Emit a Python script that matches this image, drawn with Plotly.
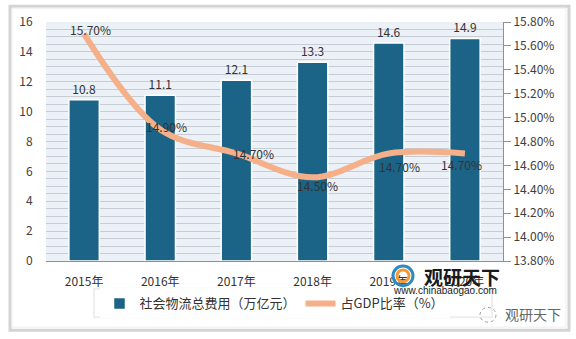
import plotly.graph_objects as go

years = ["2015年", "2016年", "2017年", "2018年", "2019年", "2020年"]
cost = [10.8, 11.1, 12.1, 13.3, 14.6, 14.9]
gdp_ratio = [15.70, 14.90, 14.70, 14.50, 14.70, 14.70]
cost_name = "社会物流总费用（万亿元）"
ratio_name = "占GDP比率（%）"

FONT = "Noto Sans CJK SC"
BAR = "#1C6487"
LINE = "#F5B08A"

def px(x):
    return (x - 46) / 457

def py(y):
    return (261 - y) / 242

fig = go.Figure()
fig.add_trace(go.Bar(
    x=years, y=cost, name=cost_name, width=0.4,
    marker=dict(color=BAR, line=dict(color="white", width=1.5)),
    text=[f"{v:.1f}" for v in cost], textposition="outside",
    textfont=dict(size=12, color="#333333", family=FONT),
    cliponaxis=False,
))
fig.add_trace(go.Scatter(
    x=years, y=gdp_ratio, name=ratio_name, yaxis="y2", mode="lines",
    line=dict(color=LINE, width=6, shape="spline", smoothing=1.0),
))

# point labels for ratio line
offsets = [(6, 4), (6, 3), (17, 0), (5, -8), (11, -13), (-3, -11)]
for yr, v, (dx, dy) in zip(years, gdp_ratio, offsets):
    fig.add_annotation(x=yr, y=v, yref="y2", text=f"{v:.2f}%", showarrow=False,
                       xshift=dx, yshift=dy,
                       font=dict(size=12, color="#333333", family=FONT))

# outer frame with shadow
fig.add_shape(type="rect", xref="paper", yref="paper", layer="above",
              x0=px(10), x1=px(569), y0=py(331), y1=py(3),
              line=dict(color="#D4D4D4", width=3))
fig.add_shape(type="rect", xref="paper", yref="paper", layer="above",
              x0=px(12), x1=px(566), y0=py(328), y1=py(5),
              line=dict(color="#EEEEEE", width=1))
# legend shadow box
fig.add_shape(type="rect", xref="paper", yref="paper", layer="above",
              x0=px(94), x1=px(492), y0=py(318), y1=py(289),
              line=dict(color="#EEEEEE", width=2))

# watermark logo (circle shapes)
fig.add_shape(type="circle", xref="paper", yref="paper", layer="above",
              x0=px(393), x1=px(413), y0=py(286), y1=py(266),
              line=dict(color="#2E8BC0", width=3))
fig.add_shape(type="circle", xref="paper", yref="paper", layer="above",
              x0=px(397), x1=px(409), y0=py(282), y1=py(270),
              line=dict(color="#F29A38", width=3))
fig.add_annotation(xref="paper", yref="paper", x=px(462), y=py(277),
                   xanchor="center", yanchor="middle",
                   text="<b>观研天下</b>", showarrow=False,
                   font=dict(size=19, color="#1A1A1A", family=FONT))
fig.add_annotation(xref="paper", yref="paper", x=px(445), y=py(291),
                   xanchor="center", yanchor="middle",
                   text="www.chinabaogao.com", showarrow=False,
                   font=dict(size=10, color="#1A1A1A", family="Arial"))
fig.add_shape(type="circle", xref="paper", yref="paper", layer="above",
              x0=px(480), x1=px(496), y0=py(323), y1=py(308),
              line=dict(color="#999999", width=1, dash="dot"))
fig.add_annotation(xref="paper", yref="paper", x=px(533), y=py(315),
                   xanchor="center", yanchor="middle",
                   text="观研天下", showarrow=False,
                   font=dict(size=14, color="#666666", family=FONT))

fig.update_layout(
    width=576, height=339,
    margin=dict(l=46, r=73, t=19, b=78),
    plot_bgcolor="#EBF1F6",
    font=dict(family=FONT, size=12, color="#404040"),
    bargap=0.6,
    showlegend=True,
    legend=dict(orientation="h", x=0.5, xanchor="center",
                y=py(304), yanchor="middle",
                bgcolor="white", borderwidth=0,
                font=dict(size=13, color="#333333", family=FONT)),
    xaxis=dict(showgrid=False, showline=True, linecolor="#909090", linewidth=1,
               ticks="outside", ticklen=10, tickcolor="rgba(0,0,0,0)",
               tickfont=dict(size=12, color="#333333")),
    yaxis=dict(range=[0, 16], dtick=2, showgrid=True, gridcolor="#C5CCD3",
               zeroline=False, showline=False,
               ticks="outside", ticklen=10, tickcolor="rgba(0,0,0,0)",
               tickfont=dict(size=12, color="#404040"),
               minor=dict(dtick=0.5, showgrid=True, gridcolor="#C5CCD3")),
    yaxis2=dict(range=[13.8, 15.8], dtick=0.2, overlaying="y", side="right",
                tickformat=".2f", ticksuffix="%", showgrid=False, zeroline=False,
                showline=True, linecolor="#909090", ticks="outside", ticklen=7,
                tickcolor="#909090",
                tickfont=dict(size=12, color="#404040")),
)

fig.write_html("out.html")
